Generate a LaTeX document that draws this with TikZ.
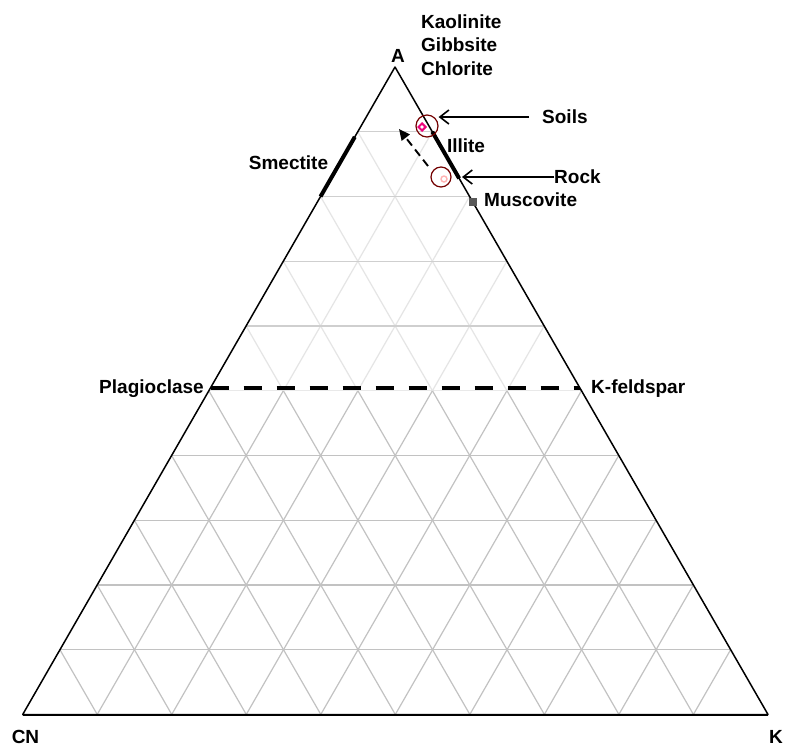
\documentclass[tikz,border=0pt]{standalone}
\usepackage{fontspec}
\setmainfont{Liberation Sans}
\usetikzlibrary{arrows.meta,shapes.geometric}
\begin{document}
\begin{tikzpicture}[x=1pt,y=-1pt,
  lbl/.style={font=\bfseries\fontsize{19}{23.5}\selectfont, inner sep=0pt},
  gridlo/.style={draw=black!24, line width=1.2pt},
  gridhi/.style={draw=black!10, line width=1.2pt},
  gridhih/.style={draw=black!19, line width=1.2pt},
  edge/.style={line width=1.5pt, line join=round},
  mineral/.style={line width=4pt},
  ring/.style={draw=red!45!black, line width=1.2pt},
  pointer/.style={line width=1.6pt, -{Straight Barb[length=9pt,width=14pt]}},
  trend/.style={line width=1.9pt, dash pattern=on 8pt off 5pt, -{Triangle[length=11pt,width=10pt]}},
  feldline/.style={line width=4pt, dash pattern=on 18pt off 15pt},
]
\useasboundingbox (0,0) rectangle (786,748);
\fill[white] (0,0) rectangle (786,748);

% corners of the ternary diagram
\coordinate (A) at (395,67);
\coordinate (CN) at (22.7,714.5);
\coordinate (K) at (768,714.5);

% grid, lower half
\begin{scope}
  \clip (CN) -- (K) -- (barycentric cs:A=5,CN=0,K=5) -- (barycentric cs:A=5,CN=5,K=0) -- cycle;
  \foreach \i in {1,...,9}{
    \pgfmathtruncatemacro\j{10-\i}
    \draw[gridlo] (barycentric cs:A=\i,CN=\j,K=0) -- (barycentric cs:A=\i,CN=0,K=\j);
    \draw[gridlo] (barycentric cs:A=0,CN=\j,K=\i) -- (barycentric cs:A=\j,CN=0,K=\i);
    \draw[gridlo] (barycentric cs:A=0,CN=\i,K=\j) -- (barycentric cs:A=\j,CN=\i,K=0);
  }
\end{scope}

% grid, upper half (faded)
\begin{scope}
  \clip (A) -- (barycentric cs:A=5,CN=0,K=5) -- (barycentric cs:A=5,CN=5,K=0) -- cycle;
  \foreach \i in {1,...,9}{
    \pgfmathtruncatemacro\j{10-\i}
    \draw[gridhi] (barycentric cs:A=0,CN=\j,K=\i) -- (barycentric cs:A=\j,CN=0,K=\i);
    \draw[gridhi] (barycentric cs:A=0,CN=\i,K=\j) -- (barycentric cs:A=\j,CN=\i,K=0);
  }
  \foreach \i in {6,...,9}{
    \pgfmathtruncatemacro\j{10-\i}
    \draw[gridhih] (barycentric cs:A=\i,CN=\j,K=0) -- (barycentric cs:A=\i,CN=0,K=\j);
  }
\end{scope}

% outline
\draw[edge] (A) -- (CN) -- (K) -- cycle;
\draw[line width=2pt] (CN) -- (K);

% feldspar join
\draw[feldline] (barycentric cs:A=0.505,CN=0.495,K=0) -- (barycentric cs:A=0.505,CN=0,K=0.495);

% smectite and illite ranges along the edges
\draw[mineral] (barycentric cs:A=0.80,CN=0.20,K=0) -- (barycentric cs:A=0.892,CN=0.108,K=0);
\draw[mineral] (barycentric cs:A=0.828,CN=0,K=0.172) -- (barycentric cs:A=0.90,CN=0,K=0.10);

% muscovite
\node[fill=black!65, minimum size=8pt, inner sep=0pt] (musc) at (472.5,202) {};

% sample fields
\node[ring, circle, minimum size=22pt, inner sep=0pt] (soils) at (427,126) {};
\node[ring, circle, minimum size=20pt, inner sep=0pt] (rock) at (441,177) {};
\node[draw=magenta!85!red, line width=2pt, diamond, minimum size=8pt, inner sep=0pt, shape aspect=1] (sp) at (422,127) {};
\node[draw=red!30, line width=1.4pt, circle, minimum size=6pt, inner sep=0pt] (rp) at (444,179) {};

% weathering trend
\coordinate (trendA) at (428,166);
\coordinate (trendB) at (399,129);
\draw[trend] (trendA) -- (trendB);

% labels
\node[lbl] (lA) at (398,56) {A};
\node[lbl, anchor=west, align=left] (lclay) at (421,45) {Kaolinite\\Gibbsite\\Chlorite};
\node[lbl] (lsm) at (288.5,163) {Smectite};
\node[lbl] (lil) at (466,146) {Illite};
\node[lbl, anchor=west] (lmu) at (484,200) {Muscovite};
\node[lbl, anchor=west] (lso) at (542,117) {Soils};
\node[lbl, anchor=west] (lro) at (554,177) {Rock};
\node[lbl, anchor=east] (lpl) at (204,389) {Plagioclase};
\node[lbl, anchor=west] (lkf) at (591,389) {K-feldspar};
\node[lbl] (lcn) at (25.5,737) {CN};
\node[lbl] (lk) at (776,737) {K};

% pointers to the sample fields
\draw[pointer] (lso.west) ++(-13,0) coordinate (soilsTail) -- (soilsTail -| soils.east);
\draw[pointer] (lro.west) -- (462,177);
\end{tikzpicture}
\end{document}
